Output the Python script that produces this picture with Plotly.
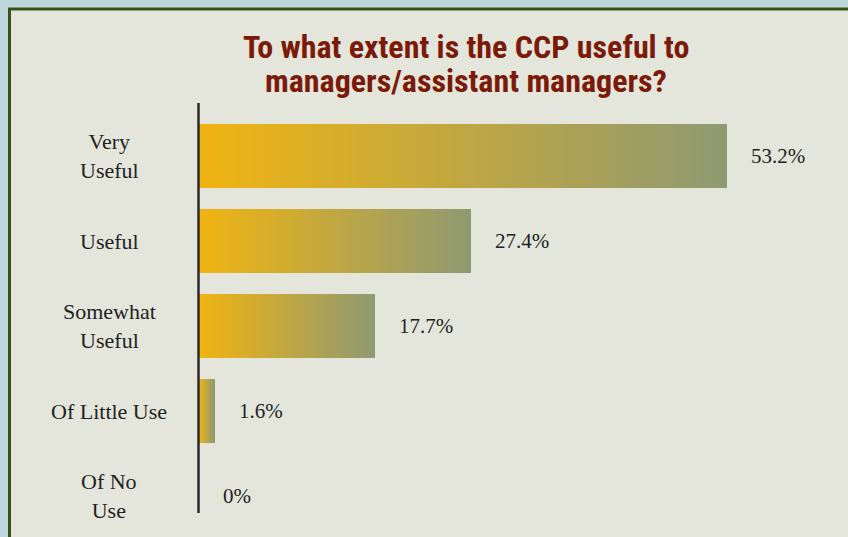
import plotly.graph_objects as go

categories = ["Very Useful", "Useful", "Somewhat Useful", "Of Little Use", "Of No Use"]
category_labels = ["Very<br>Useful", "Useful", "Somewhat<br>Useful", "Of Little Use", "Of No<br>Use"]
values = [53.2, 27.4, 17.7, 1.6, 0.0]
value_labels = ["53.2%", "27.4%", "17.7%", "1.6%", "0%"]
title_lines = ["To what extent is the CCP useful to", "managers/assistant managers?"]

W, H = 848, 537
L, T, B = 199, 103, 24
XMAX = 60
PLOT_W = 596
R = W - L - PLOT_W
PLOT_H = H - T - B

c0 = (240, 180, 18)
c1 = (143, 154, 114)
N = 90

fig = go.Figure()
for k in range(N):
    f = k / (N - 1)
    col = "rgb(%d,%d,%d)" % tuple(round(a + (b - a) * f) for a, b in zip(c0, c1))
    fig.add_trace(go.Bar(
        y=categories,
        x=[v / N for v in values],
        base=[v * k / N for v in values],
        orientation="h",
        width=0.75,
        marker=dict(color=col, line=dict(width=0)),
        hoverinfo="skip",
        showlegend=False,
    ))

def px_x(p):
    return (p - L) / PLOT_W

def px_y(p):
    return (T + PLOT_H - p) / PLOT_H

shapes = [
    dict(type="rect", xref="paper", yref="paper",
         x0=px_x(9.5), x1=px_x(W + 10), y0=px_y(H + 10), y1=px_y(9),
         fillcolor="#e4e6dc", line=dict(color="#3b5016", width=3), layer="below"),
    dict(type="line", xref="paper", yref="paper",
         x0=px_x(198.5), x1=px_x(198.5), y0=0, y1=1,
         line=dict(color="#2a2a2a", width=2.5)),
]

annotations = []
for cat, lab in zip(categories, category_labels):
    annotations.append(dict(
        x=px_x(109), xref="paper", y=cat, yref="y", text=lab, showarrow=False,
        xanchor="center", yanchor="middle", align="center",
        font=dict(family="Liberation Serif, serif", size=22, color="#222222"),
    ))
for cat, v, lab in zip(categories, values, value_labels):
    annotations.append(dict(
        x=v, xref="x", y=cat, yref="y", text=lab, showarrow=False,
        xanchor="left", yanchor="middle", xshift=22,
        font=dict(family="Liberation Serif, serif", size=21, color="#222222"),
    ))
for line, py in zip(title_lines, [47, 81]):
    annotations.append(dict(
        x=px_x(466), xref="paper", y=px_y(py), yref="paper", text=line,
        showarrow=False, xanchor="center", yanchor="middle", align="center",
        font=dict(family="Liberation Sans Narrow, Arial Narrow, Roboto Condensed, sans-serif",
                  size=32, color="#7b1a08", weight="bold"),
    ))

fig.update_layout(
    width=W, height=H,
    margin=dict(l=L, r=R, t=T, b=B, pad=0),
    paper_bgcolor="#bfd6da",
    plot_bgcolor="rgba(0,0,0,0)",
    barmode="overlay",
    bargap=0,
    xaxis=dict(range=[0, XMAX], visible=False, fixedrange=True),
    yaxis=dict(categoryorder="array", categoryarray=categories,
               range=[(513 - 156) / 85, (103 - 156) / 85],
               visible=False, fixedrange=True),
    shapes=shapes,
    annotations=annotations,
)

fig.write_html("out.html")
